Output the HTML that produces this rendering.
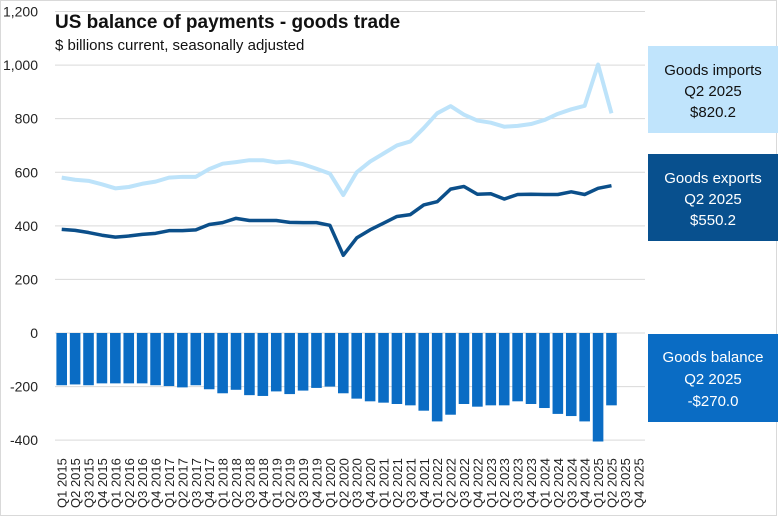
<!DOCTYPE html>
<html><head><meta charset="utf-8"><style>
html,body{margin:0;padding:0;background:#fff;}
svg{display:block;font-family:"Liberation Sans",sans-serif;}
</style></head><body>
<svg id="c" width="778" height="517" viewBox="0 0 778 517" xmlns="http://www.w3.org/2000/svg">
<rect x="0.5" y="0.5" width="776" height="515" fill="#fff" stroke="#d9d9d9"/>
<g id="grid"></g>
<g id="bars"></g>
<g id="lines"></g>
<g id="lab" font-size="14" fill="#222"></g>
<text x="55" y="28" font-size="19" font-weight="bold" fill="#111">US balance of payments - goods trade</text>
<text x="55" y="50" font-size="15" fill="#111">$ billions current, seasonally adjusted</text>
<rect x="648" y="46" width="130" height="87" fill="#C0E4FC"/>
<g font-size="15" fill="#111" text-anchor="middle"><text x="713" y="75">Goods imports</text><text x="713" y="96">Q2 2025</text><text x="713" y="117">$820.2</text></g>
<rect x="648" y="154" width="130" height="87" fill="#08508E"/>
<g font-size="15" fill="#fff" text-anchor="middle"><text x="713" y="183">Goods exports</text><text x="713" y="204">Q2 2025</text><text x="713" y="225">$550.2</text></g>
<rect x="648" y="334" width="130" height="88" fill="#0A6CC4"/>
<g font-size="15" fill="#fff" text-anchor="middle"><text x="713" y="362">Goods balance</text><text x="713" y="384">Q2 2025</text><text x="713" y="406">-$270.0</text></g>
</svg>
<script>
var NS="http://www.w3.org/2000/svg";
function el(p,t,a,txt){var e=document.createElementNS(NS,t);for(var k in a)e.setAttribute(k,a[k]);if(txt!=null)e.textContent=txt;document.getElementById(p).appendChild(e);return e;}
function Y(v){return 333-v*0.2679;}
var x0=55,cw=590/44;
function X(i){return x0+cw*(i+0.5);}
for(var v=-400;v<=1200;v+=200){
 el("grid","line",{x1:x0,x2:645,y1:Y(v),y2:Y(v),stroke:"#d9d9d9","stroke-width":1});
 el("lab","text",{x:38,y:Y(v)+5,"text-anchor":"end"},v.toLocaleString("en-US"));
}
var bal=[-195,-192,-195,-188,-188,-188,-188,-195,-198,-203,-195,-210,-225,-212,-232,-235,-218,-228,-215,-205,-200,-225,-245,-255,-260,-265,-270,-290,-330,-305,-265,-275,-270,-270,-255,-265,-280,-302,-310,-330,-405,-270];
var ex=[387,383,375,365,358,362,368,372,382,382,385,405,412,428,420,420,420,413,412,412,402,290,355,385,410,435,442,478,490,537,547,518,520,500,517,518,517,517,527,517,540,550];
var im=[580,572,568,555,540,545,557,565,580,583,583,612,632,638,645,645,637,640,630,613,595,515,600,640,670,700,715,765,820,847,815,793,785,770,773,780,795,818,835,848,1002,820];
bal.forEach(function(v,i){el("bars","rect",{x:X(i)-5.3,y:Y(0),width:10.6,height:Y(v)-Y(0),fill:"#0A6CC4"});});
function pl(d,c,w){el("lines","polyline",{points:d.map(function(v,i){return X(i)+","+Y(v)}).join(" "),fill:"none",stroke:c,"stroke-width":w,"stroke-linejoin":"round"});}
pl(im,"#BDE3FA",4);pl(ex,"#0B4F8A",3.5);
var q=0;for(var yr=2015;yr<=2025;yr++)for(var k=1;k<=4;k++){var x=X(q++)+5;
 el("lab","text",{x:0,y:0,transform:"translate("+x+",508) rotate(-90)","font-size":"13"},"Q"+k+" "+yr);}
</script>
</body></html>
